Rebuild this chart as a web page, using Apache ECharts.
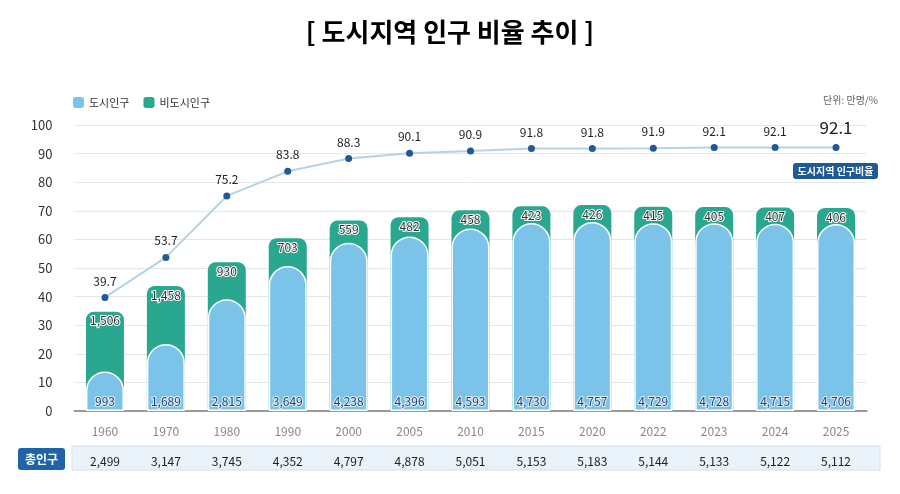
<!DOCTYPE html>
<html><head><meta charset="utf-8">
<script src="https://cdn.jsdelivr.net/npm/echarts@6/dist/echarts.min.js"></script>
<style>html,body{margin:0;padding:0;background:#fff}#c{width:900px;height:494px}</style>
</head><body><div id="c"></div>
<script>
const years=['1960','1970','1980','1990','2000','2005','2010','2015','2020','2022','2023','2024','2025'];
const urban=[993,1689,2815,3649,4238,4396,4593,4730,4757,4729,4728,4715,4706];
const nonUrban=[1506,1458,930,703,559,482,458,423,426,415,405,407,406];
const total=[2499,3147,3745,4352,4797,4878,5051,5153,5183,5144,5133,5122,5112];
const ratio=[39.7,53.7,75.2,83.8,88.3,90.1,90.9,91.8,91.8,91.9,92.1,92.1,92.1];
const fmt=v=>v.toLocaleString('en-US');
const F='"Noto Sans CJK KR","Noto Sans",sans-serif';
const chart=echarts.init(document.getElementById('c'));
chart.setOption({
 animation:false,
 textStyle:{fontFamily:F},
 title:{text:'[ 도시지역 인구 비율 추이 ]',left:'center',top:14,textStyle:{fontSize:26,fontWeight:'bold',color:'#000',fontFamily:F}},
 legend:{left:68,top:92,itemWidth:11,itemHeight:11,itemGap:14,textStyle:{fontSize:11,color:'#333'},
   data:[{name:'도시인구',itemStyle:{color:'#7cc3ea',borderWidth:0}},{name:'비도시인구',itemStyle:{color:'#2aa78f',borderWidth:0}}]},
 grid:{left:74.5,right:33.5,top:125,bottom:83},
 xAxis:[{type:'category',data:years,axisTick:{show:false},axisLine:{lineStyle:{color:'#999',width:2}},
   axisLabel:{color:'#888',fontSize:12,margin:14}},
  {type:'category',data:total.map(fmt),position:'bottom',offset:36,axisTick:{show:false},axisLine:{show:false},
   axisLabel:{color:'#222',fontSize:12}}],
 yAxis:[{type:'value',min:0,max:100,interval:10,axisLabel:{color:'#333',fontSize:13,margin:22},
   splitLine:{lineStyle:{color:'#e6e6e6'}}},
  {type:'value',min:0,max:7200,show:false,splitLine:{show:false}}],
 graphic:[
  {type:'rect',shape:{x:72,y:446,width:808,height:24},style:{fill:'#eaf3fa',stroke:'#cfe0ee',lineWidth:1},z:-10},
  {type:'rect',shape:{x:18,y:448,width:47,height:22,r:3},style:{fill:'#1f63a8'}},
  {type:'text',x:41.5,y:459,style:{text:'총인구',fill:'#fff',font:'bold 12px '+F,align:'center',verticalAlign:'middle'}},
  {type:'text',right:22,top:95,style:{text:'단위: 만명/%',fill:'#666',font:'10px '+F}},
  {type:'rect',shape:{x:793,y:163,width:85,height:16,r:3},style:{fill:'#1f5a96'}},
  {type:'text',x:835.5,y:171,style:{text:'도시지역 인구비율',fill:'#fff',font:'bold 10px '+F,align:'center',verticalAlign:'middle'}}
 ],
 series:[
  {name:'비도시인구',type:'bar',yAxisIndex:1,data:total,barWidth:38,barGap:'-100%',
   itemStyle:{color:'#2aa78f',borderRadius:[8,8,0,0]},
   label:{show:true,position:'insideTop',offset:[0,-2],color:'#333',fontSize:12,
     textBorderColor:'#fff',textBorderWidth:2,formatter:p=>fmt(nonUrban[p.dataIndex])}},
  {name:'도시인구',type:'bar',yAxisIndex:1,data:urban,barWidth:38,
   itemStyle:{color:'#7cc3ea',borderRadius:[19,19,0,0],borderColor:'#fff',borderWidth:1.5},
   label:{show:true,position:'insideBottom',distance:4,color:'#1d3f73',fontSize:12,
     textBorderColor:'#dff0fb',textBorderWidth:2,formatter:p=>fmt(p.value)}},
  {name:'비율',type:'line',data:ratio.map((v,i)=>i===ratio.length-1?{value:v,label:{fontSize:17,offset:[0,-1]}}:v),
   symbol:'circle',symbolSize:7,lineStyle:{color:'#b6d3e6',width:2},itemStyle:{color:'#1f5a96'},
   label:{show:true,position:'top',distance:7,color:'#222',fontSize:12},z:5}
 ]
});
</script></body></html>
